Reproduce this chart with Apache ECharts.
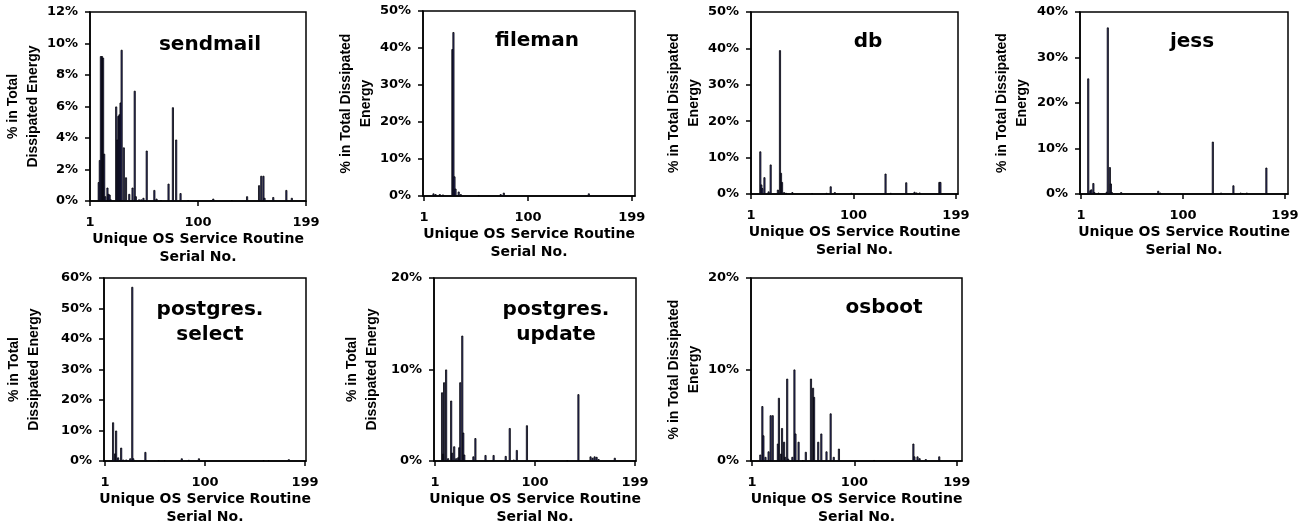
<!DOCTYPE html>
<html>
<head>
<meta charset="utf-8">
<script src="https://cdn.jsdelivr.net/npm/echarts@6/dist/echarts.min.js"></script>
<style>
html, body { margin: 0; padding: 0; background: #fff; }
#main { width: 1307px; height: 527px; }
</style>
</head>
<body>
<div id="main"></div>
<script>
// serial no. of the routine / % of total dissipated energy
var sendmailNo  = [9, 10, 11, 12, 13, 14, 15, 17, 18, 19, 20, 25, 26, 27, 28, 29, 30, 32, 34, 37, 40, 42, 43, 46, 48, 50, 53, 60, 62, 66, 73, 77, 80, 84, 91, 112, 114, 131, 145, 156, 158, 160, 161, 169, 181, 186];
var sendmailPct = [1.2, 2.6, 9.2, 9.2, 9.1, 3.0, 0.3, 0.85, 0.45, 0.4, 0.1, 6.0, 3.9, 5.4, 5.5, 6.25, 9.6, 3.4, 1.5, 0.45, 0.85, 7.0, 0.3, 0.1, 0.1, 0.2, 3.2, 0.7, 0.15, 0.05, 1.1, 5.95, 3.9, 0.5, 0.05, 0.05, 0.15, 0.05, 0.3, 1.0, 1.6, 1.6, 0.2, 0.25, 0.7, 0.2];

var filemanNo  = [10, 12, 16, 19, 28, 29, 30, 31, 34, 36, 53, 74, 77, 158];
var filemanPct = [0.7, 0.5, 0.5, 0.4, 39.7, 44.3, 5.3, 2.0, 1.2, 0.5, 0.2, 0.5, 0.9, 0.7];

var dbNo  = [10, 11, 12, 14, 18, 20, 27, 29, 30, 31, 33, 35, 41, 60, 74, 78, 82, 98, 131, 136, 151, 159, 161, 164, 183, 184];
var dbPct = [11.7, 2.6, 1.6, 4.6, 0.7, 8.1, 1.2, 39.5, 5.8, 3.3, 0.5, 0.3, 0.5, 0.2, 0.3, 2.1, 0.5, 0.3, 5.6, 0.3, 3.2, 0.6, 0.4, 0.4, 3.3, 3.3];

var jessNo  = [8, 10, 11, 13, 14, 18, 26, 27, 29, 30, 31, 40, 76, 78, 129, 137, 149, 156, 158, 162, 181];
var jessPct = [25.4, 0.8, 1.0, 2.4, 0.4, 0.3, 0.5, 36.6, 5.9, 2.3, 0.4, 0.4, 0.7, 0.3, 11.5, 0.3, 1.9, 0.3, 0.2, 0.3, 5.8];

var selectNo  = [9, 11, 12, 14, 17, 19, 22, 26, 28, 29, 41, 54, 60, 77, 84, 94, 158, 163, 183];
var selectPct = [12.7, 2.5, 10.0, 1.2, 4.4, 0.5, 0.5, 0.9, 57.1, 0.9, 3.0, 0.3, 0.3, 0.9, 0.4, 0.9, 0.3, 0.3, 0.6];

var updateNo  = [8, 9, 10, 12, 14, 17, 18, 20, 22, 24, 25, 26, 28, 29, 30, 39, 41, 51, 59, 71, 75, 79, 82, 92, 102, 132, 143, 155, 157, 159, 161, 163, 179];
var updatePct = [7.5, 0.8, 8.6, 10.0, 0.3, 6.6, 0.9, 1.6, 0.3, 0.4, 1.5, 8.6, 13.7, 3.1, 0.7, 0.5, 2.5, 0.65, 0.65, 0.55, 3.6, 0.15, 1.2, 3.9, 0.05, 0.05, 7.3, 0.5, 0.35, 0.5, 0.45, 0.2, 0.35];

var osbootNo  = [9, 11, 12, 14, 17, 19, 21, 26, 27, 29, 30, 32, 33, 35, 36, 40, 42, 43, 46, 50, 53, 58, 60, 61, 65, 68, 73, 77, 80, 85, 119, 157, 158, 161, 163, 169, 182];
var osbootPct = [0.7, 6.0, 2.8, 0.45, 1.05, 5.0, 5.0, 1.9, 6.9, 0.8, 3.6, 2.1, 0.45, 9.0, 0.25, 0.45, 10.0, 3.0, 2.1, 0.1, 1.0, 9.0, 8.0, 7.0, 2.1, 3.0, 1.05, 5.2, 0.45, 1.35, 0.1, 1.9, 0.5, 0.5, 0.3, 0.2, 0.5];

var panelTitles = ['sendmail', 'fileman', 'db', 'jess', 'postgres.\nselect', 'postgres.\nupdate', 'osboot'];
var panelNo  = [sendmailNo, filemanNo, dbNo, jessNo, selectNo, updateNo, osbootNo];
var panelPct = [sendmailPct, filemanPct, dbPct, jessPct, selectPct, updatePct, osbootPct];
var yMax  = [12, 50, 50, 40, 60, 20, 20];
var yStep = [2, 10, 10, 10, 10, 10, 10];
var xTicks = [1, 100, 199];
var xName = 'Unique OS Service Routine\nSerial No.';
var yNames = ['% in Total\nDissipated Energy', '% in Total Dissipated\nEnergy', '% in Total Dissipated\nEnergy',
              '% in Total Dissipated\nEnergy', '% in Total\nDissipated Energy', '% in Total\nDissipated Energy',
              '% in Total Dissipated\nEnergy'];

// plot boxes [left, top, width, height], x range, y name gap, title centre
var boxes = [[90, 12, 216, 189], [423, 11, 212, 185], [751, 12, 207, 182], [1080, 12, 208, 182],
             [104, 278, 202, 188], [434, 278, 202, 183], [751, 278, 211, 183]];
var xMin = [1, 0, 1, 0, 0, 0, 0];
var xMax = [199, 202, 201, 202, 200, 200, 204];
var yGap = [45, 47, 45, 48, 60, 52, 47];
var titlePos = [[210, 45], [537, 41], [868, 42], [1192, 42], [210, 322], [556, 322], [884, 308]];

var hFont = 'DejaVu Sans';
var vFont = 'Liberation Sans';

var grids = [], xAxes = [], yAxes = [], series = [], graphics = [];
for (var i = 0; i < 7; i++) {
    var b = boxes[i];
    grids.push({
        left: b[0], top: b[1], width: b[2], height: b[3],
        show: true, borderColor: '#000', borderWidth: 1.5, backgroundColor: '#fff'
    });
    xAxes.push({
        type: 'value', gridIndex: i, min: xMin[i], max: xMax[i],
        name: xName, nameLocation: 'middle', nameGap: 27,
        nameTextStyle: { fontFamily: hFont, fontWeight: 'bold', fontSize: 14, lineHeight: 18, color: '#000' },
        axisLine: { lineStyle: { color: '#000', width: 1.5 } },
        axisTick: { show: true, length: 5, customValues: xTicks, lineStyle: { color: '#000', width: 1.5 } },
        axisLabel: { customValues: xTicks, margin: 15, fontFamily: hFont, fontWeight: 'bold', fontSize: 13, color: '#000' },
        splitLine: { show: false }
    });
    yAxes.push({
        type: 'value', gridIndex: i, min: 0, max: yMax[i], interval: yStep[i],
        name: yNames[i], nameLocation: 'middle', nameGap: yGap[i],
        nameTextStyle: { fontFamily: vFont, fontWeight: 'bold', fontSize: 14, lineHeight: 20, color: '#000' },
        axisLine: { show: true, lineStyle: { color: '#000', width: 1.5 } },
        axisTick: { show: true, length: 5, lineStyle: { color: '#000', width: 1.5 } },
        axisLabel: { formatter: '{value}%', margin: 12, fontFamily: hFont, fontWeight: 'bold', fontSize: 13, color: '#000' },
        splitLine: { show: false }
    });
    var data = [];
    for (var k = 0; k < panelNo[i].length; k++) {
        data.push([panelNo[i][k], panelPct[i][k]]);
    }
    series.push({
        type: 'bar', xAxisIndex: i, yAxisIndex: i, data: data,
        barWidth: 2, silent: true,
        itemStyle: { color: '#3c3c8c', borderColor: '#000', borderWidth: 0.8 }
    });
    graphics.push({
        type: 'text', x: titlePos[i][0], y: titlePos[i][1],
        style: {
            text: panelTitles[i], fill: '#000', align: 'center', verticalAlign: 'middle',
            font: 'bold 20px "DejaVu Sans"', lineHeight: 25
        }
    });
}

var myChart = echarts.init(document.getElementById('main'));
myChart.setOption({
    animation: false,
    grid: grids,
    xAxis: xAxes,
    yAxis: yAxes,
    series: series,
    graphic: graphics
});
</script>
</body>
</html>
